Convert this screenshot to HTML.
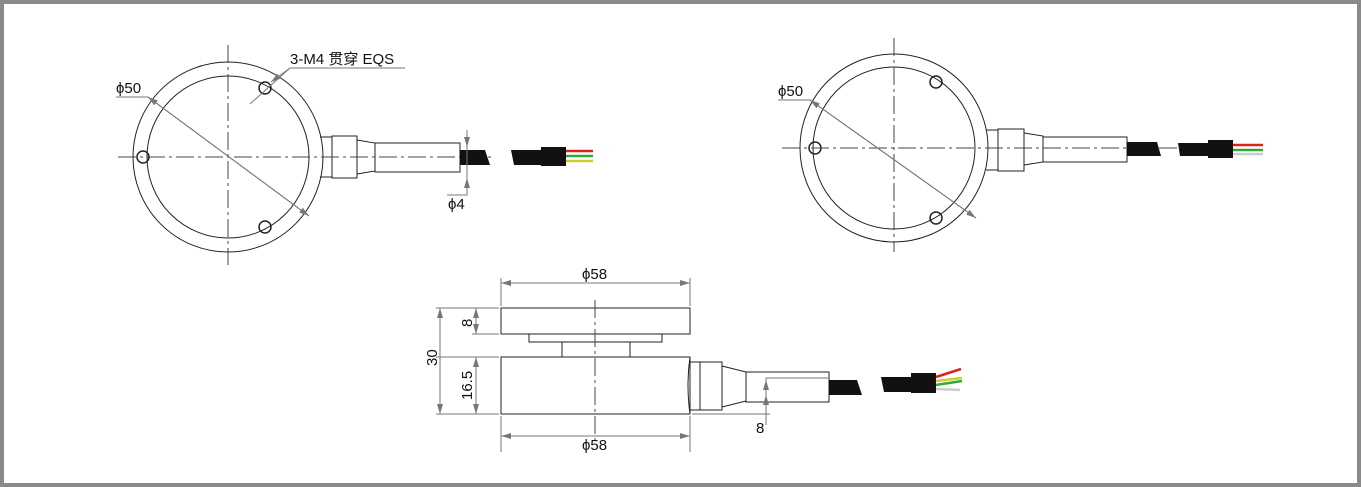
<!DOCTYPE html>
<html><head><meta charset="utf-8"><style>
html,body{margin:0;padding:0;background:#fff}
svg{display:block}
text{font-family:"Liberation Sans","Noto Sans CJK SC",sans-serif;font-size:15px;fill:#111}
</style></head><body>
<svg width="1361" height="487" viewBox="0 0 1361 487" xmlns="http://www.w3.org/2000/svg">
<rect x="2" y="2" width="1357" height="483" fill="#fff" stroke="#8a8a8a" stroke-width="4"/>
<defs>
<marker id="a" viewBox="0 0 10 6" refX="10" refY="3" markerWidth="10" markerHeight="6" orient="auto-start-reverse" markerUnits="userSpaceOnUse"><path d="M0,0L10,3L0,6z" fill="#777"/></marker>
</defs>
<g fill="none" stroke="#222" stroke-width="1">
<circle cx="228" cy="157" r="95"/>
<circle cx="228" cy="157" r="81"/>
<circle cx="143" cy="157" r="6" stroke-width="1.5"/>
<circle cx="265" cy="88" r="6" stroke-width="1.5"/>
<circle cx="265" cy="227" r="6" stroke-width="1.5"/>
<path d="M320,137h12v40h-12M332,136h25v42h-25zM357,140l18,3v28l-18,3M375,143h85v29h-85z"/>
<circle cx="894" cy="148" r="94"/>
<circle cx="894" cy="148" r="81"/>
<circle cx="815" cy="148" r="6" stroke-width="1.5"/>
<circle cx="936" cy="82" r="6" stroke-width="1.5"/>
<circle cx="936" cy="218" r="6" stroke-width="1.5"/>
<path d="M986,130h12v40h-12M998,129h26v42h-26zM1024,133l19,3v26l-19,3M1043,137h84v25h-84z"/>
<rect x="501" y="308" width="189" height="26"/>
<rect x="529" y="334" width="133" height="8"/>
<path d="M562,342v15M630,342v15"/>
<rect x="501" y="357" width="189" height="57"/>
<path d="M690,357q-4,28 0,57M690,362h10v48h-10M700,362h22v48h-22zM722,366l24,6v29l-24,6M746,372h83v30h-83z"/>
</g>
<g stroke="#444" stroke-width="1" stroke-dasharray="18,4,3,4" fill="none">
<path d="M118,157H495M228,45V265M782,148H1183M894,38V252M595,300V440"/>
</g>
<g fill="#111">
<path d="M460,150h25l5,15h-30z"/><path d="M511,150h30l1,15h-28z"/><rect x="541" y="147" width="25" height="19"/>
<path d="M1127,142h30l4,14h-34z"/><path d="M1178,143h30v13h-28z"/><rect x="1208" y="140" width="25" height="18"/>
<path d="M829,380h28l5,15h-33z"/><path d="M881,377h30v15h-27z"/><rect x="911" y="373" width="25" height="20"/>
</g>
<g stroke-width="2.5">
<path d="M566,151h27" stroke="#d22"/><path d="M566,156h27" stroke="#3a3"/><path d="M566,161h27" stroke="#cc3"/>
<path d="M1233,145h30" stroke="#d22"/><path d="M1233,150h30" stroke="#3a3"/><path d="M1233,154h30" stroke="#ccc"/>
<path d="M936,377l25,-8" stroke="#d22"/><path d="M936,381l26,-3" stroke="#cc3"/><path d="M936,385l26,-4" stroke="#3a3"/><path d="M936,389l24,1" stroke="#ccc"/>
</g>
<g stroke="#777" stroke-width="1" fill="none">
<path d="M116,97h32L309,216" marker-end="url(#a)"/>
<path d="M148,97L309,216" marker-start="url(#a)"/>
<path d="M405,68H290L250,104"/>
<path d="M290,68L271,82" marker-end="url(#a)"/>
<path d="M467,130V195H447"/>
<path d="M467,132V147" marker-end="url(#a)"/><path d="M467,190V178" marker-end="url(#a)"/>
<path d="M778,100h32L976,218"/>
<path d="M810,100L976,218" marker-start="url(#a)" marker-end="url(#a)"/>
<path d="M501,278V306M690,278V306M501,416V452M690,416V452"/>
<path d="M501,283H690" marker-start="url(#a)" marker-end="url(#a)"/>
<path d="M501,436H690" marker-start="url(#a)" marker-end="url(#a)"/>
<path d="M436,308H499M436,414H499M436,357H499M472,334H499"/>
<path d="M440,308V414" marker-start="url(#a)" marker-end="url(#a)"/>
<path d="M476,308V334" marker-start="url(#a)" marker-end="url(#a)"/>
<path d="M476,357V414" marker-start="url(#a)" marker-end="url(#a)"/>
<path d="M766,378H828M692,414H770M766,378V425"/>
<path d="M766,398V380" marker-end="url(#a)"/><path d="M766,395V412" marker-start="url(#a)"/>
</g>
<text x="290" y="64">3-M4 贯穿 EQS</text>
<text x="116" y="93">ϕ50</text>
<text x="448" y="209">ϕ4</text>
<text x="778" y="96">ϕ50</text>
<text x="582" y="279">ϕ58</text>
<text x="582" y="450">ϕ58</text>
<text x="756" y="433">8</text>
<text transform="translate(437,366) rotate(-90)">30</text>
<text transform="translate(472,327) rotate(-90)">8</text>
<text transform="translate(472,400) rotate(-90)">16.5</text>
</svg>
</body></html>
